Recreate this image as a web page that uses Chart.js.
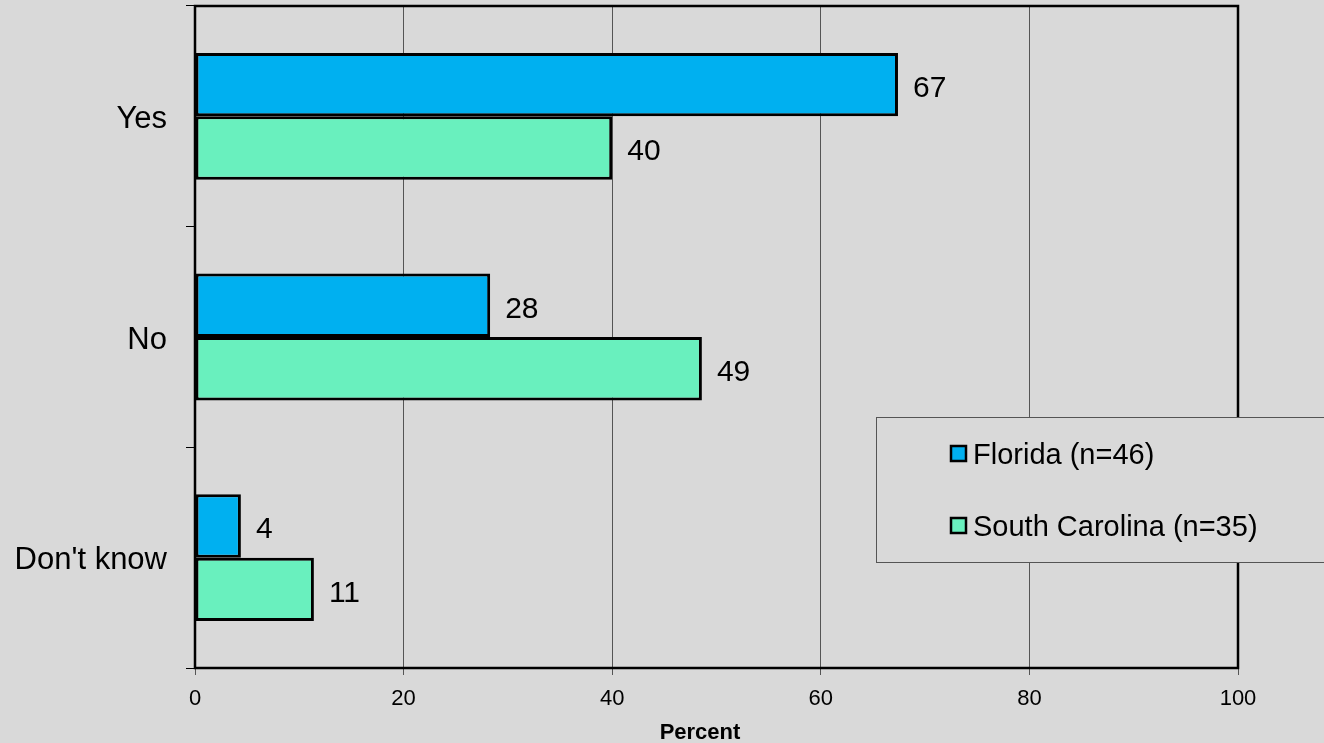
<!DOCTYPE html>
<html>
<head>
<meta charset="utf-8">
<script src="https://cdn.jsdelivr.net/npm/chart.js@4/dist/chart.umd.min.js"></script>
<style>
html,body{margin:0;padding:0;background:#d9d9d9;overflow:hidden;}
canvas{display:block;}
</style>
</head>
<body>
<canvas id="c" width="1324" height="743"></canvas>
<script>
const categories = ['Yes', 'No', "Don't know"];
const floridaValues = [67.4, 28.3, 4.4];
const southCarolinaValues = [40.0, 48.6, 11.4];
const seriesLabels = ['Florida (n=46)', 'South Carolina (n=35)'];
const seriesColors = ['#00B0F0', '#69F0BE'];
const xTickValues = [0, 20, 40, 60, 80, 100];
const xTitle = 'Percent';

const FONT = "'Liberation Sans', Arial, sans-serif";

const bgPlugin = {
  id: 'bg',
  beforeDraw(chart) {
    const ctx = chart.ctx;
    ctx.save();
    ctx.fillStyle = '#d9d9d9';
    ctx.fillRect(0, 0, chart.width, chart.height);
    ctx.restore();
  }
};

const labelPlugin = {
  id: 'vlabels',
  afterDatasetsDraw(chart) {
    const ctx = chart.ctx;
    ctx.save();
    ctx.font = '30px ' + FONT;
    ctx.fillStyle = '#000';
    ctx.textAlign = 'left';
    ctx.textBaseline = 'middle';
    chart.data.datasets.forEach((ds, di) => {
      chart.getDatasetMeta(di).data.forEach((bar, i) => {
        ctx.fillText(String(Math.round(ds.data[i])), bar.x + 15, bar.y + 4);
      });
    });
    ctx.restore();
  }
};

const framePlugin = {
  id: 'frame',
  afterDraw(chart) {
    const ctx = chart.ctx;
    const a = chart.chartArea;
    ctx.save();
    ctx.strokeStyle = '#000';
    ctx.lineWidth = 2.5;
    ctx.strokeRect(a.left, a.top, a.right - a.left, a.bottom - a.top);
    ctx.font = 'bold 22px ' + FONT;
    ctx.fillStyle = '#000';
    ctx.textAlign = 'center';
    ctx.textBaseline = 'alphabetic';
    ctx.fillText(xTitle, 700, 739);
    const lx = 876.5, ly = 417.5, lw = 470, lh = 145;
    ctx.fillStyle = '#d9d9d9';
    ctx.fillRect(lx, ly, lw, lh);
    ctx.strokeStyle = '#555';
    ctx.lineWidth = 1;
    ctx.strokeRect(lx, ly, lw, lh);
    const rows = [454, 526];
    ctx.font = '29px ' + FONT;
    ctx.textAlign = 'left';
    ctx.textBaseline = 'middle';
    chart.data.datasets.forEach((ds, i) => {
      const cy = rows[i];
      ctx.fillStyle = ds.backgroundColor;
      ctx.fillRect(951, cy - 8, 15, 15);
      ctx.strokeStyle = '#000';
      ctx.lineWidth = 2.5;
      ctx.strokeRect(951, cy - 8, 15, 15);
      ctx.fillStyle = '#000';
      ctx.fillText(ds.label, 973, cy + 2);
    });
    ctx.restore();
  }
};

new Chart(document.getElementById('c'), {
  type: 'bar',
  data: {
    labels: categories,
    datasets: [
      { label: seriesLabels[0], data: floridaValues, backgroundColor: seriesColors[0], borderColor: '#000', borderWidth: 3, borderSkipped: false },
      { label: seriesLabels[1], data: southCarolinaValues, backgroundColor: seriesColors[1], borderColor: '#000', borderWidth: 3, borderSkipped: false }
    ]
  },
  options: {
    indexAxis: 'y',
    responsive: false,
    animation: false,
    devicePixelRatio: 1,
    layout: { padding: { top: 6, right: 86, left: 0, bottom: 0 } },
    datasets: { bar: { categoryPercentage: 0.575, barPercentage: 1.0 } },
    plugins: { legend: { display: false }, tooltip: { enabled: false }, title: { display: false } },
    scales: {
      x: {
        min: 0, max: 100,
        afterBuildTicks(scale) { scale.ticks = xTickValues.map(v => ({ value: v })); },
        afterFit(scale) { scale.height = 75; scale.paddingLeft = 0; scale.paddingRight = 0; scale.paddingTop = 0; scale.paddingBottom = 0; },
        ticks: { font: { family: FONT, size: 22 }, color: '#000', padding: 11, maxRotation: 0 },
        grid: { color: '#555', lineWidth: 1, tickLength: 7, tickColor: '#555' },
        border: { display: false }
      },
      y: {
        afterFit(scale) { scale.width = 195; scale.paddingTop = 0; scale.paddingBottom = 0; scale.paddingLeft = 0; scale.paddingRight = 0; },
        ticks: { font: { family: FONT, size: 31 }, color: '#000', padding: 19, labelOffset: 3 },
        grid: { offset: true, drawOnChartArea: false, tickLength: 9, color: '#000', lineWidth: 1 },
        border: { display: false }
      }
    }
  },
  plugins: [bgPlugin, labelPlugin, framePlugin]
});
</script>
</body>
</html>
